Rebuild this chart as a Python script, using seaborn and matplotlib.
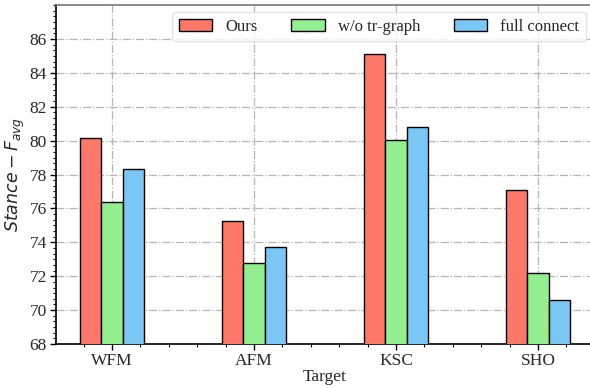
import matplotlib
matplotlib.use("Agg")
import matplotlib.pyplot as plt
import seaborn as sns
import pandas as pd
from matplotlib.ticker import AutoMinorLocator, MultipleLocator

targets = ["WFM", "AFM", "KSC", "SHO"]
methods = ["Ours", "w/o tr-graph", "full connect"]
ours = [80.17, 75.25, 85.1, 77.1]
wo_graph = [76.35, 72.77, 80.05, 72.2]
full_conn = [78.33, 73.7, 80.82, 70.62]
colors = ["#FF7769", "#92EE8F", "#7AC7F5"]

rows = []
for m, vals in zip(methods, [ours, wo_graph, full_conn]):
    for t, v in zip(targets, vals):
        rows.append({"Target": t, "Method": m, "Value": v})
df = pd.DataFrame(rows)

sns.set_style("white")
plt.rcParams["font.family"] = ["Liberation Serif", "DejaVu Sans"]
plt.rcParams["mathtext.fontset"] = "dejavusans"

fig = plt.figure(figsize=(5.9, 3.88), dpi=100)
ax = fig.add_axes([56/590, 1 - 344/388, (594 - 56)/590, (344 - 5)/388])

sns.barplot(data=df, x="Target", y="Value", hue="Method", hue_order=methods,
            palette=colors, width=0.45, edgecolor="black", linewidth=1.0,
            saturation=1, ax=ax, zorder=3)

ax.set_ylim(68, 88)
ax.set_yticks(list(range(68, 88, 2)))
ax.yaxis.set_minor_locator(MultipleLocator(1/3))
ax.xaxis.set_minor_locator(AutoMinorLocator(5))
ax.set_xlim(-0.394, 3.394)

ax.grid(True, which="major", linestyle="-.", color="#b5b5b5", linewidth=0.9, zorder=0)
ax.set_axisbelow(True)

ax.tick_params(axis="both", which="major", labelsize=12.5, length=4, width=1,
               direction="out", color="black", bottom=True, left=True, pad=2.5)
ax.tick_params(axis="both", which="minor", length=2.5, width=0.8,
               direction="out", color="black", bottom=True, left=True)

for s in ["left", "bottom"]:
    ax.spines[s].set_color("black")
    ax.spines[s].set_linewidth(1.2)
for s in ["top", "right"]:
    ax.spines[s].set_color("#777777")
    ax.spines[s].set_linewidth(1.2)

ax.set_xlabel("Target", fontsize=12.5, labelpad=0)
ax.set_ylabel(r"$Stance-F_{avg}$", fontsize=12.5, labelpad=2)

leg = ax.legend(loc="upper right", ncol=3, fontsize=12, frameon=True,
                handlelength=2.0, handleheight=0.7, columnspacing=2.0,
                handletextpad=0.8, borderaxespad=0.0, fancybox=True,
                bbox_to_anchor=(586/590, 1 - 12/388),
                bbox_transform=fig.transFigure)
leg.get_frame().set_edgecolor("#dddddd")

fig.savefig("out.png", dpi=100)
